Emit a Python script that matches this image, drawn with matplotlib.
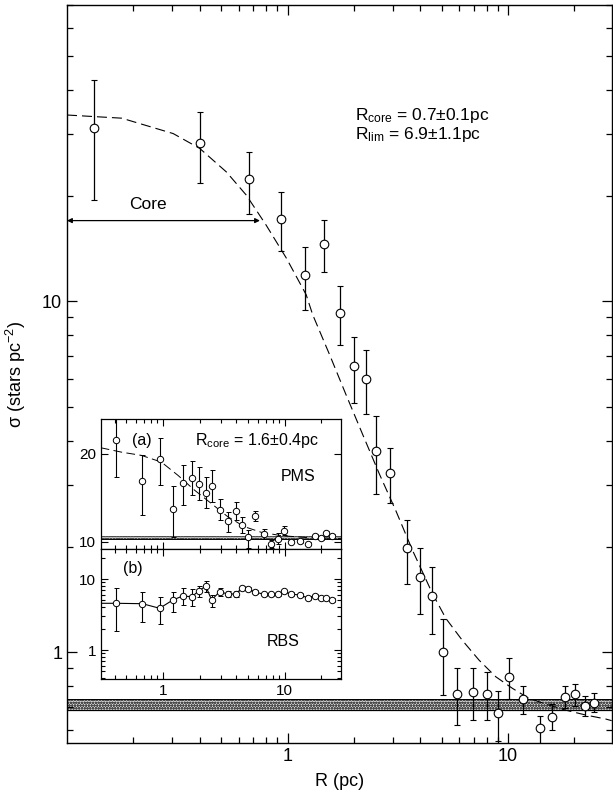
import numpy as np
import matplotlib
matplotlib.use('Agg')
import matplotlib.pyplot as plt
from matplotlib.ticker import LogLocator, FixedLocator, FuncFormatter, NullFormatter

plt.rcParams['font.family'] = ['Liberation Sans', 'DejaVu Sans']
plt.rcParams['mathtext.fontset'] = 'custom'
plt.rcParams['mathtext.rm'] = 'Liberation Sans'
plt.rcParams['mathtext.it'] = 'Liberation Sans:italic'
plt.rcParams['mathtext.default'] = 'rm'
plt.rcParams['hatch.linewidth'] = 0.8
plt.rcParams['hatch.color'] = '0.25'

# ---- main profile (all stars)
r_main = [0.133, 0.399, 0.667, 0.93, 1.20, 1.46, 1.73, 2.0, 2.26, 2.52, 2.92, 3.47, 3.98, 4.52,
          5.06, 5.86, 6.92, 8.01, 9.04, 10.1, 11.7, 13.9, 15.9, 18.1, 20.2, 22.3, 24.5]
sig_main = [31.2, 28.3, 22.3, 17.2, 11.9, 14.58, 9.24, 6.54, 6.02, 3.74, 3.24, 1.98, 1.636, 1.443,
            0.998, 0.760, 0.770, 0.761, 0.671, 0.851, 0.734, 0.607, 0.654, 0.745, 0.760, 0.704, 0.718]
sig_hi = [42.9, 34.7, 26.7, 20.5, 14.3, 17.02, 11.03, 7.94, 7.29, 4.70, 3.82, 2.38, 1.98, 1.747,
          1.24, 0.899, 0.899, 0.879, 0.776, 0.963, 0.802, 0.659, 0.712, 0.801, 0.811, 0.751, 0.766]
sig_lo = [19.4, 21.8, 17.8, 13.9, 9.47, 12.17, 7.50, 5.14, 4.77, 2.82, 2.67, 1.56, 1.288, 1.13,
          0.755, 0.620, 0.641, 0.641, 0.558, 0.734, 0.668, 0.544, 0.599, 0.692, 0.704, 0.659, 0.674]

# King fit curve
r_fit = [0.1, 0.177, 0.303, 0.40, 0.528, 0.65, 0.80, 0.987, 1.215, 1.30, 1.55, 1.84, 2.19, 2.61,
         3.10, 3.69, 4.54, 5.23, 6.21, 7.39, 8.80, 10.46, 12.4, 15.3, 18.2, 22.5, 27.7, 29.5]
sig_fit = [34.0, 33.3, 30.1, 27.3, 23.4, 20.1, 16.5, 13.3, 10.45, 9.17, 7.06, 5.43, 4.18, 3.22,
           2.53, 1.95, 1.47, 1.247, 1.08, 0.949, 0.851, 0.789, 0.739, 0.707, 0.684, 0.662, 0.645, 0.638]
bg_main = (0.684, 0.734)

# ---- inset (a) PMS
r_pms = [0.415, 0.678, 0.939, 1.205, 1.45, 1.726, 1.98, 2.247, 2.51, 2.917, 3.41, 3.96, 4.43,
         4.97, 5.75, 6.71, 7.71, 8.75, 9.80, 11.28, 13.24, 15.43, 17.68, 19.9, 22.0, 24.5]
sig_pms = [21.59, 16.90, 19.35, 13.66, 16.64, 17.24, 16.60, 15.58, 16.32, 13.58, 12.28, 13.52, 11.88,
           10.46, 12.93, 10.86, 9.73, 10.33, 11.22, 9.99, 10.03, 9.73, 10.60, 10.41, 10.97, 10.66]
pms_hi = [23.9, 19.89, 21.77, 16.30, 18.75, 19.16, 18.48, 17.35, 18.11, 14.79, 13.39, 14.52, 12.82,
          11.31, 13.50, 11.43, 10.18, 10.94, 11.77, 10.2, 10.2, 9.9, 10.8, 10.6, 11.2, 10.85]
pms_lo = [17.35, 13.01, 16.49, 10.56, 14.15, 15.28, 14.71, 13.77, 14.45, 12.45, 11.05, 12.45, 10.94,
          9.24, 12.33, 10.29, 9.31, 9.69, 10.75, 9.8, 9.85, 9.55, 10.4, 10.2, 10.75, 10.45]
r_pms_fit = [0.308, 0.456, 0.665, 0.970, 1.327, 1.82, 2.49, 3.41, 4.67, 6.41, 9.34, 15.4, 25.5, 29.0]
sig_pms_fit = [20.68, 20.18, 19.81, 19.05, 17.54, 15.84, 14.34, 12.82, 11.69, 11.05, 10.67, 10.44, 10.37, 10.36]
bg_pms = (10.29, 10.67)

# ---- inset (b) RBS (first bin lies left of the inset window)
r_rbs = [0.2, 0.415, 0.678, 0.939, 1.205, 1.45, 1.726, 1.98, 2.247, 2.51, 2.917, 3.41, 3.96, 4.43,
         4.97, 5.75, 6.71, 7.71, 8.75, 9.80, 11.28, 13.24, 15.43, 17.68, 19.9, 22.0, 24.5]
sig_rbs = [4.55, 4.55, 4.49, 3.87, 5.06, 5.76, 5.63, 6.84, 7.97, 5.06, 6.62, 6.15, 6.15, 7.39,
           7.23, 6.56, 6.09, 6.09, 6.15, 6.71, 6.15, 5.95, 5.45, 5.82, 5.35, 5.35, 5.06]
rbs_hi = [4.55, 7.39, 6.62, 5.52, 6.62, 7.39, 7.16, 8.05, 9.46, 5.95, 7.39, 6.7, 6.7, 7.9,
          7.7, 6.95, 6.45, 6.45, 6.5, 7.1, 6.5, 6.3, 5.8, 6.15, 5.65, 5.65, 5.35]
rbs_lo = [4.55, 1.87, 2.45, 2.30, 3.46, 4.30, 4.17, 5.63, 6.62, 3.99, 5.81, 5.65, 5.65, 6.9,
          6.75, 6.2, 5.75, 5.75, 5.8, 6.35, 5.8, 5.6, 5.1, 5.5, 5.05, 5.05, 4.8]


def errs(y, lo, hi):
    y = np.array(y)
    return [y - np.array(lo), np.array(hi) - y]


def dec_fmt(v, pos):
    return '%g' % v


fig = plt.figure(figsize=(6.13, 7.94), dpi=100)
ax = fig.add_axes([0.1093, 0.0639, 0.8885, 0.9298])
ax.set_xscale('log')
ax.set_yscale('log')
ax.set_xlim(0.1, 29.5)
ax.set_ylim(0.55, 70)

ax.axhspan(bg_main[0], bg_main[1], facecolor='0.88', hatch='oooooo', edgecolor='0.3', linewidth=0, zorder=1)
ax.axhline(bg_main[0], color='k', lw=0.9, zorder=2)
ax.axhline(bg_main[1], color='k', lw=0.7, zorder=2)

ax.plot(r_fit, sig_fit, color='k', lw=0.8, dashes=(9, 4.5), zorder=3)
ax.errorbar(r_main, sig_main, yerr=errs(sig_main, sig_lo, sig_hi), fmt='o', ms=6.2, mfc='white',
            mec='k', mew=0.8, ecolor='k', elinewidth=0.9, capsize=2.4, capthick=0.9, zorder=4)

ax.annotate('', xy=(0.1, 17.0), xytext=(0.75, 17.0),
            arrowprops=dict(arrowstyle='<|-|>', color='k', lw=0.9, mutation_scale=7, shrinkA=0, shrinkB=0))
ax.text(0.234, 18.0, 'Core', fontsize=12.5, ha='center', va='bottom')
ax.text(2.03, 33.8, r'R$_{core}$ = 0.7$\pm$0.1pc', fontsize=12.5, ha='left', va='center')
ax.text(2.03, 30.0, r'R$_{lim}$ = 6.9$\pm$1.1pc', fontsize=12.5, ha='left', va='center')

ax.xaxis.set_major_locator(FixedLocator([1, 10]))
ax.xaxis.set_major_formatter(FuncFormatter(dec_fmt))
ax.xaxis.set_minor_locator(LogLocator(base=10, subs=np.arange(2, 10)))
ax.xaxis.set_minor_formatter(NullFormatter())
ax.yaxis.set_major_locator(FixedLocator([1, 10]))
ax.yaxis.set_major_formatter(FuncFormatter(dec_fmt))
ax.yaxis.set_minor_locator(LogLocator(base=10, subs=np.arange(2, 10)))
ax.yaxis.set_minor_formatter(NullFormatter())
ax.tick_params(which='both', direction='in', top=True, right=True, labelsize=13, width=0.9)
ax.tick_params(which='major', length=7)
ax.tick_params(which='minor', length=4)
for s in ax.spines.values():
    s.set_linewidth(1.0)
ax.set_xlabel('R (pc)', fontsize=13, labelpad=6)
ax.set_ylabel('σ (stars pc$^{-2}$)', fontsize=13, labelpad=10)

# ---- inset panels
axa = fig.add_axes([0.1648, 0.3086, 0.3915, 0.1631])
axb = fig.add_axes([0.1648, 0.1448, 0.3915, 0.1638], sharex=axa)
for a in (axa, axb):
    a.set_xscale('log')
axa.set_xlim(0.31, 29)
axa.set_ylim(9.15, 23.9)
axb.set_yscale('log')
axb.set_ylim(0.39, 26.5)

axa.axhspan(bg_pms[0], bg_pms[1], facecolor='0.88', hatch='oooooo', edgecolor='0.3', linewidth=0, zorder=1)
axa.axhline(bg_pms[0], color='k', lw=0.7, zorder=2)
axa.axhline(bg_pms[1], color='0.3', lw=0.5, zorder=2)
axa.plot(r_pms_fit, sig_pms_fit, color='k', lw=0.7, dashes=(9, 4.5), zorder=3)
axa.errorbar(r_pms, sig_pms, yerr=errs(sig_pms, pms_lo, pms_hi), fmt='o', ms=4.6, mfc='white',
             mec='k', mew=0.7, ecolor='k', elinewidth=0.8, capsize=1.8, capthick=0.8, zorder=4)
axa.text(0.673, 21.5, '(a)', fontsize=11.5, ha='center', va='center')
axa.text(1.82, 21.5, r'R$_{core}$ = 1.6$\pm$0.4pc', fontsize=11.5, ha='left', va='center')
axa.text(12.8, 17.35, 'PMS', fontsize=11.5, ha='center', va='center')
axa.set_yticks([10, 20])
axa.set_yticklabels(['10', '20'])

axb.plot(r_rbs, sig_rbs, color='k', lw=0.8, zorder=3)
axb.errorbar(r_rbs[1:], sig_rbs[1:], yerr=errs(sig_rbs[1:], rbs_lo[1:], rbs_hi[1:]), fmt='o', ms=4.6,
             mfc='white', mec='k', mew=0.7, ecolor='k', elinewidth=0.8, capsize=1.8, capthick=0.8, zorder=4)
axb.text(0.568, 14.2, '(b)', fontsize=11.5, ha='center', va='center')
axb.text(9.63, 1.31, 'RBS', fontsize=11.5, ha='center', va='center')
axb.yaxis.set_major_locator(FixedLocator([1, 10]))
axb.yaxis.set_major_formatter(FuncFormatter(dec_fmt))
axb.yaxis.set_minor_locator(LogLocator(base=10, subs=np.arange(2, 10)))
axb.yaxis.set_minor_formatter(NullFormatter())

axb.xaxis.set_major_locator(FixedLocator([1, 10]))
axb.xaxis.set_major_formatter(FuncFormatter(dec_fmt))
axb.xaxis.set_minor_locator(LogLocator(base=10, subs=np.arange(2, 10)))
axb.xaxis.set_minor_formatter(NullFormatter())
plt.setp(axa.get_xticklabels(), visible=False)

for a in (axa, axb):
    a.tick_params(which='both', direction='in', top=True, right=True, labelsize=11, width=0.8)
    a.tick_params(which='major', length=5)
    a.tick_params(which='minor', length=3)
    for s in a.spines.values():
        s.set_linewidth(0.9)

fig.savefig('out.png', dpi=100)
